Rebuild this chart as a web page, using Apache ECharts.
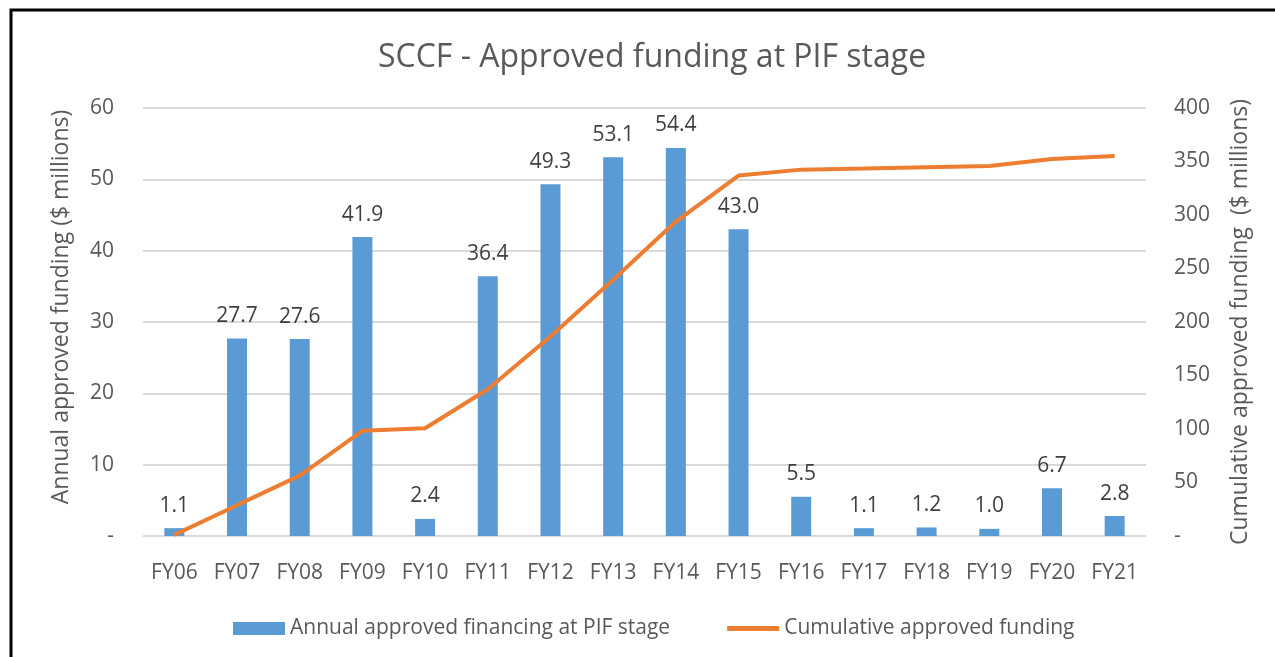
<!DOCTYPE html>
<html>
<head>
<meta charset="utf-8">
<script src="https://cdn.jsdelivr.net/npm/echarts@6/dist/echarts.min.js"></script>
<style>
  html, body { margin: 0; padding: 0; background: #fff; }
  #main { width: 1275px; height: 657px; }
</style>
</head>
<body>
<div id="main"></div>
<script>
// values
const categories = ['FY06', 'FY07', 'FY08', 'FY09', 'FY10', 'FY11', 'FY12', 'FY13',
  'FY14', 'FY15', 'FY16', 'FY17', 'FY18', 'FY19', 'FY20', 'FY21'];
const annualFunding = [1.1, 27.7, 27.6, 41.9, 2.4, 36.4, 49.3, 53.1,
  54.4, 43.0, 5.5, 1.1, 1.2, 1.0, 6.7, 2.8];
const cumulativeFunding = [1.1, 28.8, 56.4, 98.3, 100.7, 137.1, 186.4, 239.5,
  293.9, 336.9, 342.4, 343.5, 344.7, 345.7, 352.4, 355.2];

const font = 'Open Sans';
const grey = '#595959';

const chart = echarts.init(document.getElementById('main'));
chart.setOption({
  animation: false,
  backgroundColor: '#fff',
  textStyle: { fontFamily: font },
  graphic: [{
    type: 'rect',
    shape: { x: 11, y: 10, width: 1400, height: 800 },
    style: { fill: 'none', stroke: '#000', lineWidth: 3 },
    silent: true
  }],
  title: {
    text: 'SCCF - Approved funding at PIF stage',
    left: 373,
    top: 37,
    textStyle: { fontFamily: font, fontSize: 32, fontWeight: 'normal', color: grey }
  },
  legend: {
    bottom: 13,
    left: 228,
    itemWidth: 52,
    itemHeight: 13,
    itemGap: 57,
    textStyle: { fontFamily: font, fontSize: 21, color: grey },
    data: [
      { name: 'Annual approved financing at PIF stage', icon: 'rect' },
      { name: 'Cumulative approved funding', icon: 'path://M0,0 H52 V5 H0 Z' }
    ]
  },
  grid: { left: 143, right: 129, top: 108, bottom: 121, containLabel: false },
  xAxis: {
    type: 'category',
    data: categories,
    axisTick: { show: false },
    axisLine: { show: true, lineStyle: { color: '#d9d9d9', width: 1 } },
    axisLabel: { fontFamily: font, fontSize: 21, color: grey, margin: 27 }
  },
  yAxis: [{
    type: 'value',
    min: 0, max: 60, interval: 10,
    name: 'Annual approved funding ($ millions)',
    nameLocation: 'middle',
    nameGap: 70,
    nameTextStyle: { fontFamily: font, fontSize: 23, color: grey, padding: [0, 0, 0, 30] },
    axisLabel: {
      fontFamily: font, fontSize: 21, color: grey, margin: 29,
      formatter: v => v === 0 ? '-' : String(v)
    },
    splitLine: { lineStyle: { color: '#d9d9d9', width: 2 } },
    axisLine: { show: false },
    axisTick: { show: false }
  }, {
    type: 'value',
    min: 0, max: 400, interval: 50,
    name: 'Cumulative approved funding  ($ millions)',
    nameLocation: 'middle',
    nameGap: 83,
    nameRotate: 90,
    nameTextStyle: { fontFamily: font, fontSize: 23, color: grey },
    axisLabel: {
      fontFamily: font, fontSize: 21, color: grey, margin: 28,
      formatter: v => v === 0 ? '-' : String(v)
    },
    splitLine: { show: false },
    axisLine: { show: false },
    axisTick: { show: false }
  }],
  series: [{
    name: 'Annual approved financing at PIF stage',
    type: 'bar',
    data: annualFunding,
    barWidth: 20,
    itemStyle: { color: '#5B9BD5' },
    label: {
      show: true,
      position: 'top',
      distance: 12,
      fontFamily: font,
      fontSize: 21,
      color: '#404040',
      formatter: p => p.value.toFixed(1)
    }
  }, {
    name: 'Cumulative approved funding',
    type: 'line',
    yAxisIndex: 1,
    data: cumulativeFunding,
    symbol: 'none',
    lineStyle: { color: '#ED7D31', width: 4 },
    itemStyle: { color: '#ED7D31' }
  }]
});
</script>
</body>
</html>
